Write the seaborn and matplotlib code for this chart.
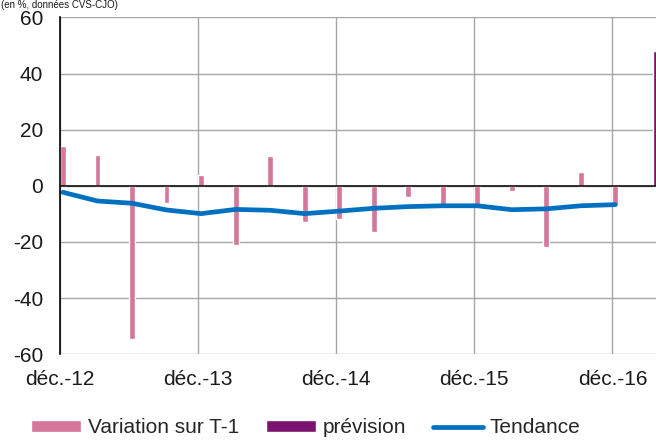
import numpy as np
import pandas as pd
import matplotlib
matplotlib.use("Agg")
import matplotlib.pyplot as plt
import seaborn as sns
from matplotlib.lines import Line2D

# quarterly data, déc.-12 .. déc.-16 (17 quarters) + forecast for mars-17
variation = [14.3, 10.9, -54.4, -6.0, 4.0, -21.1, 10.5, -12.8, -11.8,
             -16.3, -4.1, -6.8, -7.3, -1.8, -21.9, 4.9, -6.8]
prevision = [48.0]
tendance = [-2.3, -5.4, -6.2, -8.6, -9.9, -8.4, -8.7, -9.9, -9.0,
            -8.0, -7.4, -7.1, -7.1, -8.5, -8.2, -7.1, -6.7]
tick_labels = ["déc.-12", "déc.-13", "déc.-14", "déc.-15", "déc.-16"]

sns.set_style("white")
plt.rcParams['font.family'] = ['Liberation Sans', 'DejaVu Sans']
plt.rcParams['axes.unicode_minus'] = False

pink = "#D5769B"
purple = "#7A136F"
blue = "#0070C0"
bw = 0.17

fig = plt.figure(figsize=(6.56, 4.41), dpi=100)
ax = fig.add_axes([0.0915, 0.1966, 0.921, 0.764])

q = np.arange(len(variation))
ax.bar(q, variation, width=bw, align='edge', color=pink, label='Variation sur T-1', zorder=3)
ax.bar(np.arange(len(prevision)) + len(variation) + bw, prevision, width=bw, align='edge',
       color=purple, label='prévision', zorder=3)

df = pd.DataFrame({'x': np.arange(len(tendance)) + bw / 2, 'y': tendance})
sns.lineplot(data=df, x='x', y='y', ax=ax, color=blue, linewidth=3.4,
             solid_capstyle='round', zorder=4, legend=False)

ax.set_xlim(0, 17.5)
ax.set_ylim(-60, 60)
ax.set_yticks(range(-60, 61, 20))
ax.set_xticks([0, 4, 8, 12, 16])
ax.set_xticklabels(tick_labels)
ax.grid(True, color='#a6a6a6', linewidth=1.0, zorder=0)
ax.set_axisbelow(True)
ax.axhline(0, color='black', linewidth=1.1, zorder=3)
for s in ['top', 'right', 'bottom']:
    ax.spines[s].set_visible(False)
ax.spines['left'].set_color('black')
ax.spines['left'].set_linewidth(1.2)
ax.spines['left'].set_zorder(5)
ax.tick_params(axis='both', length=0, labelsize=15, colors='#1a1a1a')
ax.tick_params(axis='y', pad=12)
ax.tick_params(axis='x', pad=11)
ax.set_xlabel('')
ax.set_ylabel('')

fig.text(0.002, 0.999, "(en %, données CVS-CJO)", fontsize=7, color='#1a1a1a',
         va='top', ha='left')

h, l = ax.get_legend_handles_labels()
handles = [h[l.index('Variation sur T-1')], h[l.index('prévision')],
           Line2D([], [], color=blue, linewidth=3.4)]
fig.legend(handles, ['Variation sur T-1', 'prévision', 'Tendance'], loc='center',
           bbox_to_anchor=(0.466, 0.03), ncol=3, frameon=False, fontsize=15,
           handlelength=2.4, handleheight=0.5, handletextpad=0.3, columnspacing=1.3)

fig.savefig("out.png", dpi=100)
